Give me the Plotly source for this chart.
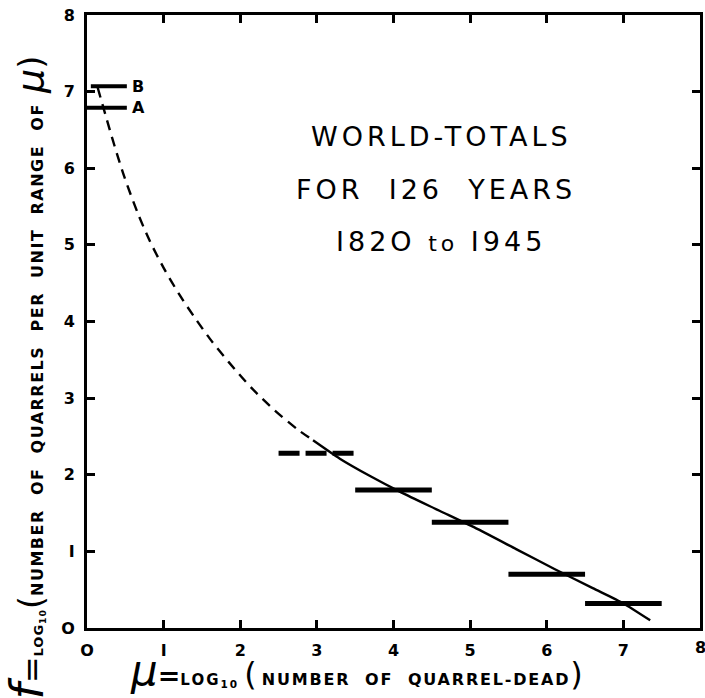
import plotly.graph_objects as go

# ---- data ----
dash_x = [0.14, 0.24, 0.36, 0.49, 0.66, 0.82, 1.00, 1.20, 1.40, 1.60, 1.85, 2.15, 2.45, 2.75, 2.95]
dash_y = [7.05, 6.70, 6.29, 5.88, 5.42, 5.05, 4.70, 4.36, 4.06, 3.78, 3.47, 3.13, 2.84, 2.59, 2.45]
solid_x = [2.95, 3.30, 3.70, 4.10, 4.60, 5.10, 5.60, 6.10, 6.60, 7.00, 7.35]
solid_y = [2.45, 2.21, 1.98, 1.77, 1.53, 1.29, 1.03, 0.77, 0.52, 0.32, 0.10]

bar_lo = [2.5, 3.5, 4.5, 5.5, 6.5]
bar_hi = [3.5, 4.5, 5.5, 6.5, 7.5]
bar_y = [2.28, 1.80, 1.38, 0.70, 0.32]
bar_dash = ["dash", "solid", "solid", "solid", "solid"]

ab_names = ["A", "B"]
ab_lo = [-0.48, 0.05]
ab_hi = [0.52, 0.52]
ab_y = [6.79, 7.07]

x_ticks = [0, 1, 2, 3, 4, 5, 6, 7, 8]
x_tick_text = ["O", "I", "2", "3", "4", "5", "6", "7", "8"]
y_ticks = [0, 1, 2, 3, 4, 5, 6, 7, 8]
y_tick_text = ["O", "I", "2", "3", "4", "5", "6", "7", "8"]

title_lines = ["WORLD-TOTALS", "FOR  I26  YEARS", "I82O <span style='font-size:22px'>to</span> I945"]
title_y = [6.42, 5.72, 5.04]
title_x = [4.63, 4.55, 4.62]

FONT = "DejaVu Sans"

fig = go.Figure()

fig.add_trace(go.Scatter(x=dash_x, y=dash_y, mode="lines",
                         line=dict(color="black", width=2.4, dash="10px,7px", shape="spline", smoothing=0.8),
                         showlegend=False, hoverinfo="skip"))
fig.add_trace(go.Scatter(x=solid_x, y=solid_y, mode="lines",
                         line=dict(color="black", width=2.4, shape="spline", smoothing=0.6),
                         showlegend=False, hoverinfo="skip"))

for lo, hi, yv, d in zip(bar_lo, bar_hi, bar_y, bar_dash):
    fig.add_trace(go.Scatter(x=[lo, hi], y=[yv, yv], mode="lines",
                             line=dict(color="black", width=5, dash="21px,6px" if d == "dash" else "solid"),
                             showlegend=False, hoverinfo="skip", cliponaxis=False))

for name, lo, hi, yv in zip(ab_names, ab_lo, ab_hi, ab_y):
    fig.add_trace(go.Scatter(x=[lo, hi], y=[yv, yv], mode="lines",
                             line=dict(color="black", width=4),
                             showlegend=False, hoverinfo="skip", cliponaxis=False))
    fig.add_annotation(x=hi + 0.04, y=yv, text="<b>" + name + "</b>", showarrow=False,
                       xanchor="left", yanchor="middle", font=dict(family=FONT, size=16, color="black"))

for t, tx, ty in zip(title_lines, title_x, title_y):
    fig.add_annotation(x=tx, y=ty, text="<span style='letter-spacing:4px'>" + t + "</span>",
                       showarrow=False, xanchor="center", yanchor="middle",
                       font=dict(family=FONT, size=27, color="black"))

# last x tick label (partly off the page, as in the reference)
fig.add_annotation(x=8, xref="x", yref="paper", y=-0.0326, text="<b>8</b>", showarrow=False,
                   xanchor="center", yanchor="middle", font=dict(family=FONT, size=16, color="black"))

# axis titles
fig.add_annotation(xref="paper", yref="paper", x=-0.098, y=-0.12, textangle=-90, showarrow=False,
                   xanchor="center", yanchor="bottom",
                   text="<span style='font-size:46px'><i>f</i></span><span style='font-size:32px'>=</span>"
                        "<span style='font-size:13px;letter-spacing:1px'><b>LOG<sub>10</sub></b></span>"
                        "<span style='font-size:34px'>(</span>"
                        "<span style='letter-spacing:1.5px'><b>NUMBER  OF  QUARRELS  PER  UNIT  RANGE  OF</b></span>  "
                        "<span style='font-size:38px'><i>μ</i></span><span style='font-size:34px'>)</span>",
                   font=dict(family=FONT, size=16, color="black"))
fig.add_annotation(xref="paper", yref="paper", x=0.0666, y=-0.070, showarrow=False,
                   xanchor="left", yanchor="middle",
                   text="<span style='font-size:42px'><i>μ</i></span><span style='font-size:27px'><b>=</b></span>"
                        "<span style='font-size:15px;letter-spacing:2px'><b>LOG<sub>10</sub></b></span>"
                        " <span style='font-size:32px'>(</span> "
                        "<span style='letter-spacing:1.8px'><b>NUMBER  OF  QUARREL-DEAD</b></span>"
                        "<span style='font-size:32px'>)</span>",
                   font=dict(family=FONT, size=16, color="black"))

axis_common = dict(showgrid=False, zeroline=False, showline=True, linecolor="black", linewidth=3,
                   mirror="allticks", ticks="inside", ticklen=8, tickwidth=2.5, tickcolor="black",
                   ticklabelstandoff=6,
                   tickfont=dict(family=FONT, size=16, color="black"))

fig.update_xaxes(range=[0, 8], tickvals=x_ticks, ticktext=["<b>%s</b>" % t for t in x_tick_text], **axis_common)
fig.update_yaxes(range=[0, 8], tickvals=y_ticks, ticktext=["<b>%s</b>" % t for t in y_tick_text], **axis_common)

fig.update_layout(width=705, height=698, margin=dict(l=87, r=2, t=15, b=70),
                  plot_bgcolor="white", paper_bgcolor="white", showlegend=False)

fig.write_html("out.html")
